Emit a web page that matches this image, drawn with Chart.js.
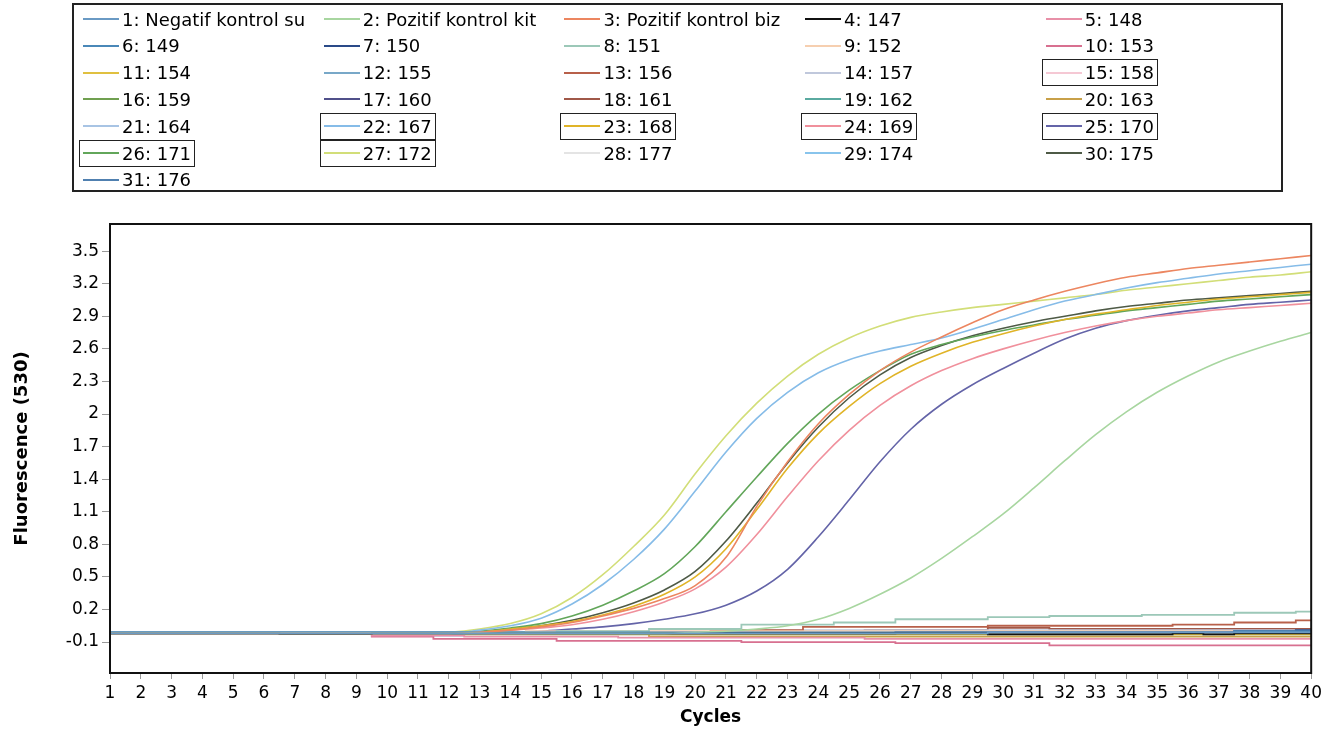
<!DOCTYPE html>
<html>
<head>
<meta charset="utf-8">
<title>Fluorescence (530)</title>
<script src="https://cdn.jsdelivr.net/npm/chart.js@4.4.1/dist/chart.umd.min.js"></script>
<style>
    html, body { margin: 0; padding: 0; background: #fff; }
    #wrap { position: relative; width: 1326px; height: 735px; }
    #legend {
        position: absolute; left: 72px; top: 3px; width: 1207px; height: 185px;
        border: 2px solid #222; font-family: "DejaVu Sans", sans-serif; font-size: 18px; color: #000;
    }
    .item { position: absolute; height: 25px; display: flex; align-items: center; white-space: nowrap; padding: 0 3px; }
    .item .swatch { width: 36px; height: 2px; margin-right: 3px; }
    .item.boxed { box-shadow: 0 0 0 1px #222; }
</style>
</head>
<body>
<div id="wrap">
    <canvas id="pcrChart"></canvas>
    <div id="legend"></div>
</div>
<script>
const cycles = [1, 2, 3, 4, 5, 6, 7, 8, 9, 10, 11, 12, 13, 14, 15, 16, 17, 18, 19, 20,
    21, 22, 23, 24, 25, 26, 27, 28, 29, 30, 31, 32, 33, 34, 35, 36, 37, 38, 39, 40];

const yTicks = [-0.1, 0.2, 0.5, 0.8, 1.1, 1.4, 1.7, 2, 2.3, 2.6, 2.9, 3.2, 3.5];

const sampleNames = ['1: Negatif kontrol su', '2: Pozitif kontrol kit', '3: Pozitif kontrol biz', '4: 147', '5: 148',
    '6: 149', '7: 150', '8: 151', '9: 152', '10: 153',
    '11: 154', '12: 155', '13: 156', '14: 157', '15: 158',
    '16: 159', '17: 160', '18: 161', '19: 162', '20: 163',
    '21: 164', '22: 167', '23: 168', '24: 169', '25: 170',
    '26: 171', '27: 172', '28: 177', '29: 174', '30: 175',
    '31: 176'];

const sampleColors = ['#6a9ac4', '#a8d6a0', '#ec8660', '#111111', '#e890a8',
    '#4a88b8', '#2a4a88', '#9cc8b8', '#f6cfb0', '#d87090',
    '#e0c040', '#78a8c8', '#b8604a', '#c0c8dc', '#f5c8d4',
    '#70a050', '#50508a', '#a05848', '#5aaaa0', '#c8a048',
    '#a8c4e4', '#86bce8', '#e0b428', '#f0909c', '#6464a8',
    '#62a65a', '#d2de78', '#e4e4e4', '#88c4ec', '#4e5a46',
    '#5080b0'];

// selected wells (boxed in the legend)
const boxedSamples = [15, 22, 23, 24, 25, 26, 27];

// baseline (non amplified) wells
const s1 = [-0.02, -0.02, -0.02, -0.02, -0.02, -0.02, -0.02, -0.02, -0.02, -0.02, -0.02, -0.02, -0.02, -0.02, -0.02, -0.02, -0.02, -0.02, -0.02, -0.02,
    -0.02, -0.02, -0.02, -0.02, -0.02, -0.02, -0.02, -0.02, -0.02, -0.01, -0.01, -0.01, -0.01, -0.01, -0.01, -0.01, -0.01, -0.01, -0.01, -0.01];
const s4 = [-0.02, -0.02, -0.02, -0.02, -0.02, -0.02, -0.025, -0.025, -0.025, -0.02, -0.02, -0.02, -0.02, -0.02, -0.02, -0.02, -0.02, -0.02, -0.02, -0.02,
    -0.02, -0.02, -0.02, -0.02, -0.02, -0.02, -0.02, -0.02, -0.02, -0.03, -0.03, -0.03, -0.03, -0.03, -0.03, -0.02, -0.03, -0.02, -0.02, -0.02];
const s5 = [-0.02, -0.02, -0.02, -0.02, -0.02, -0.02, -0.02, -0.02, -0.02, -0.04, -0.04, -0.04, -0.05, -0.05, -0.05, -0.05, -0.05, -0.06, -0.06, -0.06,
    -0.06, -0.06, -0.06, -0.06, -0.06, -0.07, -0.07, -0.07, -0.07, -0.07, -0.07, -0.07, -0.07, -0.07, -0.07, -0.07, -0.07, -0.07, -0.07, -0.07];
const s6 = [-0.01, -0.01, -0.01, -0.01, -0.01, -0.01, -0.01, -0.01, -0.01, -0.01, -0.01, -0.01, -0.01, -0.01, -0.01, -0.01, -0.01, -0.01, -0.01, -0.01,
    -0.01, -0.01, -0.01, -0.01, -0.01, -0.01, -0.01, -0.01, -0.01, -0.01, -0.01, -0.01, -0.01, -0.01, -0.01, -0.01, -0.01, 0.0, 0.0, 0.0];
const s7 = [-0.02, -0.02, -0.02, -0.02, -0.02, -0.02, -0.02, -0.02, -0.02, -0.02, -0.02, -0.02, -0.02, -0.02, -0.02, -0.02, -0.02, -0.02, -0.02, -0.02,
    -0.02, -0.02, -0.02, -0.02, -0.02, -0.02, -0.01, -0.01, -0.01, -0.01, -0.01, -0.01, -0.01, -0.01, -0.01, -0.01, -0.01, 0.0, 0.0, 0.01];
const s8 = [-0.02, -0.02, -0.02, -0.02, -0.02, -0.02, -0.02, -0.02, -0.02, -0.02, -0.02, -0.02, -0.01, -0.01, -0.01, 0.0, 0.0, 0.0, 0.02, 0.02,
    0.02, 0.06, 0.06, 0.06, 0.08, 0.08, 0.11, 0.11, 0.11, 0.13, 0.13, 0.14, 0.14, 0.14, 0.15, 0.15, 0.15, 0.17, 0.17, 0.18];
const s9 = [-0.02, -0.02, -0.02, -0.02, -0.02, -0.02, -0.02, -0.02, -0.02, -0.02, -0.02, -0.02, -0.02, -0.02, 0.0, 0.0, 0.0, 0.0, 0.0, 0.0,
    0.0, 0.0, 0.0, 0.0, 0.0, 0.0, 0.0, 0.0, 0.0, 0.0, 0.0, 0.0, 0.0, 0.0, 0.0, 0.0, 0.0, 0.0, 0.0, 0.0];
const s10 = [-0.02, -0.02, -0.02, -0.02, -0.02, -0.02, -0.02, -0.02, -0.02, -0.05, -0.05, -0.07, -0.07, -0.07, -0.07, -0.09, -0.09, -0.09, -0.09, -0.09,
    -0.09, -0.10, -0.10, -0.10, -0.10, -0.10, -0.11, -0.11, -0.11, -0.11, -0.11, -0.13, -0.13, -0.13, -0.13, -0.13, -0.13, -0.13, -0.13, -0.13];
const s11 = [-0.02, -0.02, -0.02, -0.02, -0.02, -0.02, -0.02, -0.02, -0.02, -0.02, -0.02, -0.02, -0.03, -0.03, -0.03, -0.03, -0.03, -0.03, -0.03, -0.03,
    -0.03, -0.03, -0.03, -0.03, -0.03, -0.03, -0.03, -0.03, -0.03, -0.03, -0.03, -0.03, -0.03, -0.03, -0.03, -0.03, -0.03, -0.03, -0.03, -0.03];
const s12 = [-0.01, -0.01, -0.01, -0.01, -0.01, -0.01, -0.01, -0.01, -0.01, -0.01, -0.01, -0.01, -0.01, -0.01, -0.01, -0.01, -0.01, -0.01, -0.01, -0.01,
    -0.01, -0.01, -0.01, -0.01, -0.01, -0.01, -0.01, -0.01, -0.01, -0.01, -0.01, -0.01, -0.01, -0.01, -0.01, -0.01, -0.01, -0.01, -0.01, -0.01];
const s13 = [-0.02, -0.02, -0.02, -0.02, -0.02, -0.02, -0.02, -0.02, -0.02, -0.02, -0.02, -0.02, -0.02, -0.02, -0.01, -0.01, -0.01, -0.01, -0.01, -0.01,
    0.01, 0.01, 0.01, 0.04, 0.04, 0.04, 0.04, 0.04, 0.04, 0.05, 0.05, 0.05, 0.05, 0.05, 0.05, 0.06, 0.06, 0.08, 0.08, 0.10];
const s14 = [-0.01, -0.01, -0.01, -0.01, -0.01, -0.01, -0.01, -0.01, -0.01, -0.01, -0.01, -0.01, -0.01, -0.01, -0.01, -0.01, -0.01, -0.01, -0.01, -0.01,
    0.01, 0.01, 0.01, 0.01, 0.01, 0.01, 0.01, 0.01, 0.01, 0.01, 0.01, 0.01, 0.01, 0.01, 0.01, 0.01, 0.01, 0.01, 0.01, 0.01];
const s15 = [-0.02, -0.02, -0.02, -0.02, -0.02, -0.02, -0.02, -0.02, -0.02, -0.02, -0.02, -0.02, -0.02, -0.02, -0.02, -0.02, -0.02, -0.02, -0.02, -0.02,
    -0.02, -0.02, -0.02, -0.02, -0.02, -0.02, -0.02, -0.02, -0.02, -0.02, -0.02, -0.02, -0.02, -0.02, -0.02, -0.02, -0.02, -0.02, -0.02, -0.02];
const s16 = [-0.02, -0.02, -0.02, -0.02, -0.02, -0.02, -0.02, -0.02, -0.02, -0.02, -0.02, -0.02, -0.02, -0.02, -0.02, -0.02, -0.02, -0.02, -0.02, -0.02,
    -0.02, -0.02, -0.02, -0.02, -0.02, -0.02, -0.02, -0.02, -0.02, -0.02, -0.02, -0.02, -0.02, -0.02, -0.02, -0.02, -0.02, -0.02, -0.02, -0.02];
const s17 = [-0.02, -0.02, -0.02, -0.02, -0.02, -0.02, -0.02, -0.02, -0.02, -0.02, -0.02, -0.02, -0.02, -0.02, -0.02, -0.02, -0.02, -0.02, -0.02, -0.02,
    -0.02, -0.02, -0.02, -0.02, -0.02, -0.02, -0.02, -0.02, -0.02, -0.02, -0.02, -0.02, -0.02, -0.02, -0.02, -0.02, -0.02, -0.02, -0.02, -0.02];
const s18 = [-0.02, -0.02, -0.02, -0.02, -0.02, -0.02, -0.02, -0.02, -0.02, -0.02, -0.02, -0.02, -0.02, -0.02, -0.02, -0.02, -0.02, -0.02, -0.02, -0.02,
    -0.02, -0.02, -0.02, -0.02, -0.02, 0.01, 0.01, 0.01, 0.01, 0.03, 0.03, 0.02, 0.02, 0.02, 0.02, 0.02, 0.02, 0.02, 0.02, 0.02];
const s19 = [-0.01, -0.01, -0.01, -0.01, -0.01, -0.01, -0.01, -0.01, -0.01, -0.01, -0.01, -0.01, -0.01, -0.01, -0.01, -0.01, -0.01, -0.01, -0.01, -0.01,
    -0.01, -0.01, -0.01, -0.01, -0.01, -0.01, -0.01, -0.01, -0.01, -0.01, -0.01, -0.01, -0.01, -0.01, -0.01, -0.01, -0.01, -0.01, -0.01, -0.01];
const s20 = [-0.02, -0.02, -0.02, -0.02, -0.02, -0.02, -0.02, -0.02, -0.02, -0.02, -0.02, -0.02, -0.02, -0.02, -0.02, -0.02, -0.02, -0.02, -0.05, -0.05,
    -0.05, -0.05, -0.05, -0.05, -0.05, -0.05, -0.05, -0.05, -0.05, -0.05, -0.05, -0.05, -0.05, -0.05, -0.05, -0.05, -0.05, -0.05, -0.05, -0.05];
const s21 = [-0.02, -0.02, -0.02, -0.02, -0.02, -0.02, -0.02, -0.02, -0.02, -0.02, -0.02, -0.02, -0.02, -0.02, -0.02, -0.02, -0.02, -0.02, -0.02, -0.02,
    -0.02, -0.02, -0.02, -0.02, -0.02, -0.02, -0.02, -0.02, -0.02, -0.02, -0.02, -0.02, -0.02, -0.02, -0.02, -0.02, -0.02, -0.02, -0.02, -0.02];
const s28 = [-0.02, -0.02, -0.02, -0.02, -0.02, -0.02, -0.02, -0.02, -0.02, -0.02, -0.02, -0.02, -0.02, -0.02, -0.02, -0.02, -0.02, -0.02, -0.02, -0.02,
    -0.02, -0.02, -0.02, -0.02, -0.02, -0.02, -0.02, -0.02, -0.02, -0.02, -0.02, -0.02, -0.02, -0.02, -0.02, -0.02, -0.02, -0.02, -0.02, -0.02];
const s29 = [-0.02, -0.02, -0.02, -0.02, -0.02, -0.02, -0.02, -0.02, -0.02, -0.04, -0.04, -0.04, -0.03, -0.03, -0.03, -0.03, -0.03, -0.03, -0.03, -0.03,
    -0.03, -0.03, -0.03, -0.03, -0.03, -0.03, -0.03, -0.03, -0.03, -0.03, -0.03, -0.03, -0.03, -0.03, -0.03, -0.03, -0.03, -0.03, -0.03, -0.03];
const s31 = [-0.01, -0.01, -0.01, -0.01, -0.01, -0.01, -0.01, -0.01, -0.01, -0.01, -0.01, -0.01, -0.01, -0.01, -0.01, -0.01, -0.01, -0.01, -0.01, -0.01,
    -0.01, -0.01, -0.01, -0.01, -0.01, -0.01, -0.01, -0.01, -0.01, -0.01, -0.01, -0.01, -0.01, -0.01, -0.01, -0.01, -0.01, -0.01, 0.0, 0.0];

// amplified wells
const s2 = [-0.02, -0.02, -0.02, -0.02, -0.02, -0.02, -0.02, -0.02, -0.02, -0.02, -0.02, -0.02, -0.02, -0.02, -0.02, -0.02, -0.02, -0.02, -0.02, -0.01,
    0.0, 0.02, 0.05, 0.11, 0.21, 0.34, 0.49, 0.67, 0.87, 1.08, 1.32, 1.57, 1.81, 2.02, 2.20, 2.35, 2.48, 2.58, 2.67, 2.75];
const s3 = [-0.02, -0.02, -0.02, -0.02, -0.02, -0.02, -0.02, -0.02, -0.02, -0.02, -0.02, -0.02, -0.01, 0.01, 0.04, 0.08, 0.14, 0.21, 0.30, 0.42,
    0.68, 1.15, 1.56, 1.91, 2.18, 2.40, 2.57, 2.71, 2.84, 2.96, 3.05, 3.13, 3.20, 3.26, 3.30, 3.34, 3.37, 3.40, 3.43, 3.46];
const s22 = [-0.02, -0.02, -0.02, -0.02, -0.02, -0.02, -0.02, -0.02, -0.02, -0.02, -0.02, -0.02, 0.01, 0.05, 0.12, 0.25, 0.43, 0.66, 0.94, 1.29,
    1.65, 1.96, 2.20, 2.38, 2.50, 2.58, 2.64, 2.70, 2.78, 2.87, 2.96, 3.04, 3.10, 3.16, 3.21, 3.25, 3.29, 3.32, 3.35, 3.38];
const s23 = [-0.02, -0.02, -0.02, -0.02, -0.02, -0.02, -0.02, -0.02, -0.02, -0.02, -0.02, -0.02, -0.01, 0.02, 0.05, 0.09, 0.15, 0.23, 0.34, 0.50,
    0.76, 1.12, 1.50, 1.82, 2.07, 2.28, 2.44, 2.56, 2.66, 2.74, 2.81, 2.87, 2.92, 2.96, 3.00, 3.03, 3.06, 3.08, 3.10, 3.12];
const s24 = [-0.02, -0.02, -0.02, -0.02, -0.02, -0.02, -0.02, -0.02, -0.02, -0.02, -0.02, -0.02, -0.01, 0.01, 0.03, 0.06, 0.11, 0.18, 0.27, 0.39,
    0.59, 0.89, 1.24, 1.57, 1.85, 2.08, 2.26, 2.40, 2.51, 2.60, 2.68, 2.75, 2.81, 2.86, 2.90, 2.93, 2.96, 2.98, 3.00, 3.02];
const s25 = [-0.02, -0.02, -0.02, -0.02, -0.02, -0.02, -0.02, -0.02, -0.02, -0.02, -0.02, -0.02, -0.02, -0.01, 0.0, 0.02, 0.04, 0.07, 0.11, 0.16,
    0.24, 0.37, 0.57, 0.87, 1.21, 1.56, 1.86, 2.09, 2.27, 2.42, 2.56, 2.69, 2.79, 2.86, 2.91, 2.95, 2.98, 3.01, 3.03, 3.05];
const s26 = [-0.02, -0.02, -0.02, -0.02, -0.02, -0.02, -0.02, -0.02, -0.02, -0.02, -0.02, -0.02, 0.0, 0.03, 0.07, 0.14, 0.24, 0.37, 0.53, 0.78,
    1.10, 1.42, 1.73, 2.00, 2.22, 2.40, 2.55, 2.64, 2.71, 2.77, 2.82, 2.87, 2.91, 2.95, 2.98, 3.01, 3.04, 3.06, 3.08, 3.10];
const s27 = [-0.02, -0.02, -0.02, -0.02, -0.02, -0.02, -0.02, -0.02, -0.02, -0.02, -0.02, -0.01, 0.02, 0.07, 0.16, 0.31, 0.52, 0.78, 1.07, 1.45,
    1.80, 2.10, 2.35, 2.55, 2.70, 2.81, 2.89, 2.94, 2.98, 3.01, 3.04, 3.07, 3.10, 3.14, 3.17, 3.20, 3.23, 3.26, 3.28, 3.31];
const s30 = [-0.02, -0.02, -0.02, -0.02, -0.02, -0.02, -0.02, -0.02, -0.02, -0.02, -0.02, -0.02, -0.01, 0.02, 0.05, 0.10, 0.17, 0.26, 0.38, 0.55,
    0.83, 1.18, 1.55, 1.88, 2.15, 2.36, 2.52, 2.63, 2.72, 2.79, 2.85, 2.90, 2.95, 2.99, 3.02, 3.05, 3.07, 3.09, 3.11, 3.13];

const sampleValues = [s1, s2, s3, s4, s5, s6, s7, s8, s9, s10, s11, s12, s13, s14, s15, s16,
    s17, s18, s19, s20, s21, s22, s23, s24, s25, s26, s27, s28, s29, s30, s31];
const amplified = [2, 3, 22, 23, 24, 25, 26, 27, 30];

const FONT = '"DejaVu Sans", sans-serif';

const datasets = sampleNames.map(function (name, i) {
    const isCurve = amplified.includes(i + 1);
    return {
        label: name,
        data: sampleValues[i],
        borderColor: sampleColors[i],
        backgroundColor: sampleColors[i],
        borderWidth: isCurve ? 1.6 : 1.8,
        pointRadius: 0,
        fill: false,
        stepped: isCurve ? false : 'middle',
        cubicInterpolationMode: 'monotone'
    };
});

const plotFrame = {
    id: 'plotFrame',
    afterDraw(chart) {
        const a = chart.chartArea;
        const ctx = chart.ctx;
        ctx.save();
        ctx.strokeStyle = '#111';
        ctx.lineWidth = 2;
        ctx.strokeRect(a.left, a.top, a.right - a.left, a.bottom - a.top);
        ctx.restore();
    }
};

const ctx = document.getElementById('pcrChart').getContext('2d');
const chart = new Chart(ctx, {
    type: 'line',
    data: { labels: cycles, datasets: datasets },
    plugins: [plotFrame],
    options: {
        responsive: true,
        maintainAspectRatio: false,
        animation: false,
        layout: { padding: { top: 224, right: 13, left: 0, bottom: 0 } },
        plugins: {
            legend: { display: false },
            tooltip: { enabled: false }
        },
        scales: {
            x: {
                type: 'category',
                offset: false,
                grid: { drawOnChartArea: false, drawTicks: true, tickLength: 6, color: '#999' },
                border: { display: false },
                ticks: { font: { family: FONT, size: 17 }, color: '#000', padding: 4, maxRotation: 0, autoSkip: false },
                title: { display: true, text: 'Cycles', color: '#000', font: { family: FONT, size: 17, weight: 'bold' }, padding: { top: 0, bottom: 7 } },
                afterFit: function (scale) { scale.height = 62; }
            },
            y: {
                type: 'linear',
                min: -0.385,
                max: 3.75,
                afterBuildTicks: function (scale) {
                    scale.ticks = yTicks.map(function (v) { return { value: v }; });
                },
                grid: { drawOnChartArea: false, drawTicks: true, tickLength: 8, color: '#999' },
                border: { display: false },
                ticks: {
                    font: { family: FONT, size: 17 }, color: '#000', padding: 3,
                    callback: function (v) { return String(Math.round(v * 10) / 10); }
                },
                title: { display: true, text: 'Fluorescence (530)', color: '#000', font: { family: FONT, size: 18, weight: 'bold' }, padding: { top: 12, bottom: 0 } },
                afterFit: function (scale) { scale.width = 110; }
            }
        }
    }
});

// legend box built from the chart's datasets
const legendBox = document.getElementById('legend');
chart.data.datasets.forEach(function (ds, i) {
    const col = i % 5;
    const row = Math.floor(i / 5);
    const item = document.createElement('div');
    item.className = 'item' + (boxedSamples.includes(i + 1) ? ' boxed' : '');
    item.style.left = (6 + col * 240.7) + 'px';
    item.style.top = (1.5 + row * 26.8) + 'px';
    const sw = document.createElement('span');
    sw.className = 'swatch';
    sw.style.background = ds.borderColor;
    const txt = document.createElement('span');
    txt.textContent = ds.label;
    item.appendChild(sw);
    item.appendChild(txt);
    legendBox.appendChild(item);
});
</script>
</body>
</html>
